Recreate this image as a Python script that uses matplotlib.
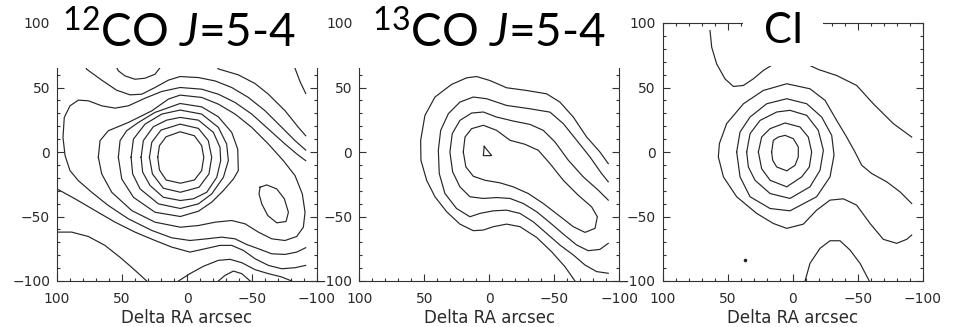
import matplotlib
matplotlib.use("Agg")
import matplotlib.pyplot as plt
import numpy as np
from matplotlib.patches import Rectangle
from matplotlib.ticker import MultipleLocator

plt.rcParams['mathtext.fontset'] = 'custom'
plt.rcParams['mathtext.rm'] = 'Lato'
plt.rcParams['mathtext.it'] = 'Lato:italic'

# ---------------- data: contour paths (arcsec) ----------------
# Panel 1: 12CO J=5-4
co12_A = [(22.5,-4.1),(21.2,4.9),(16.1,11.8),(5.3,15.7),(-5.7,12.6),(-11.3,4.9),(-12.9,-4.1),(-11.3,-14.4),(-5.7,-21.7),(5.1,-24.2),(16.1,-21.7),(21.2,-13.9)]
co12_B = [(28.9,-4.1),(27.1,7.5),(20,17),(5.3,21.6),(-8.8,18.3),(-16.4,8.8),(-19,-4.1),(-16.9,-17),(-9.3,-27.3),(5.1,-31.2),(18.2,-28.1),(26.6,-17)]
co12_C = [(35.3,-4.1),(33.6,8.8),(25.9,19.6),(15.6,24.7),(5.3,26.8),(-8.8,24.7),(-20.3,15.2),(-25.4,3.6),(-25.9,-6.7),(-22.9,-19.6),(-15.2,-31.2),(-4.9,-36.3),(5.1,-37.6),(18.2,-35.1),(28.4,-26),(34.1,-15.7)]
co12_D = [(43,-4.1),(41.2,10),(32.3,21.6),(19.4,29.4),(5.3,32.5),(-11.3,29.4),(-24.1,19.1),(-30.5,6.2),(-31.8,-6.7),(-28,-19.6),(-19,-32.5),(-8.8,-40.2),(5.1,-43.8),(22,-40.2),(36.1,-28.6),(41.8,-17)]
co12_E = [(52.8,-4.1),(51.5,8.8),(46.4,16.5),(37.4,22.9),(24.6,30.7),(5.3,37.6),(-11.3,35),(-24.1,27.3),(-34.4,15.2),(-39,2.3),(-39.5,-14.4),(-35.7,-20.9),(-28,-29.9),(-19,-38.9),(-8.8,-45.9),(5.1,-50),(24.6,-46.7),(41.2,-35.1),(50.2,-20.9)]
co12_F = [(68.2,-4.1),(66.9,8.8),(60.5,16.5),(45.1,22.9),(27.1,31.9),(14.3,41),(5.3,44.1),(-11.3,42.3),(-24.1,37.1),(-37,29.4),(-49.8,19.1),(-62.6,6.2),(-74.1,-6.7),(-83.1,-18.3),(-88.7,-32.5),(-90.8,-46.7),(-89.5,-58.3),(-84.4,-65.5),(-75.4,-68.6),(-65.2,-67.3),(-54.9,-62.1),(-44.7,-55.7),(-34.4,-53.1),(-21.6,-54.4),(-8.8,-57),(5.1,-58.3),(24.6,-54.4),(42.5,-45.4),(57.9,-31.2),(65.6,-17)]
co12_S2 = [(-56.2,-27.3),(-61.3,-25.5),(-69,-28.6),(-74.9,-36.3),(-78,-46.7),(-76.2,-53.9),(-69,-54.9),(-62.1,-49.2),(-57.5,-40.2),(-55.4,-32.5)]
co12_G = [(-91.3,-6.7),(-84.4,-1.5),(-75.4,6.2),(-62.6,17.8),(-49.8,29.4),(-37,38.4),(-24.1,44.8),(-11.3,48.7),(5.3,50),(19.5,46.9),(32.3,41.7),(45.1,35.8),(55.3,34),(65.6,35.8),(75.9,39.7),(83.6,40.2),(90,35.8),(94.4,26.8),(95.4,11.3),(93.8,-2.8),(90,-14.4),(83.6,-22.2),(73.3,-31.2),(60.5,-41.5),(45.1,-51.8),(27.1,-60.8),(11.8,-66.5),(-2.3,-68.6),(-15.2,-67.3),(-26.7,-66),(-37,-67.3),(-45.9,-71.7),(-54.9,-75),(-65.2,-78.9),(-75.4,-79.4),(-84.4,-77.6),(-91.3,-74.2)]
co12_H1 = [(78.5,68),(77.2,64.2),(65.6,55.7),(54.1,47.9),(43.8,44.3),(34.8,44.8),(24.6,50),(14.3,55.7),(5.3,58.5),(-8.8,57.7),(-21.6,55.1),(-34.4,50),(-47.2,42.3),(-60,32),(-72.9,19.1),(-83.1,8.8),(-91.3,1.5)]
co12_H2 = [(100,-28.6),(86.1,-36.3),(70.7,-45.4),(55.3,-54.4),(40,-62.1),(24.6,-68.6),(11.8,-73.7),(-2.3,-77.6),(-13.9,-75),(-25.4,-72.4),(-34.4,-72.4),(-43.4,-76.3),(-52.3,-82.7),(-62.6,-87.9),(-72.9,-90.5),(-83.1,-89.7),(-91.3,-87.9)]
co12_X0 = [(-21.6,68.6),(-24.1,64.4),(-39.5,59.8),(-52.3,53.1),(-62.6,44.8),(-75.4,32),(-85.7,19.1),(-91.3,12.6)]
co12_K = [(-81.8,68.6),(-83.6,63.5),(-87,54.5),(-91.3,45.4)]
co12_La = [(55.3,68),(52.8,62.9),(47.7,59),(40,56.4),(32.3,57.2),(24.6,60.3),(20.7,65.4),(19.5,68)]
co12_P = [(100,-62.1),(88.7,-62.1),(75.9,-65.5),(63.1,-72.4),(50.2,-82.7),(40,-91.7),(31,-100)]
co12_R = [(6.6,-100),(-2.3,-94.3),(-12.6,-88.6),(-24.1,-84),(-33.1,-83.2),(-42.1,-85.8),(-52.3,-91.2),(-62.6,-94.3),(-72.9,-96.9),(-80.5,-100)]
co12_S = [(-24.1,-100),(-29.3,-95.6),(-35.7,-92.3),(-42.1,-94.3),(-48.6,-100)]

# Panel 2: 13CO J=5-4
co13_C1 = [(-65.9,-100),(-58.2,-88.9),(-47.9,-77.3),(-36.4,-66.2),(-23.6,-57.9),(-13.3,-55.9),(-3.1,-57.9),(4.6,-60.5),(12.3,-61),(22.6,-55.9),(32.8,-46.3),(41.8,-34.7),(48.2,-21.9),(52.6,-6.4),(52.8,9.1),(49.5,28.4),(41.8,42.6),(29,52.4),(17.4,57.5),(9.8,58.5),(-0.5,55.4),(-13.3,49.8),(-28.7,47.7),(-44.1,45.1),(-54.3,38.7),(-64.6,27.1),(-74.9,11.6),(-85.1,0),(-91.5,-9)]
co13_C2 = [(-91.5,-94),(-82.5,-92.7),(-73.6,-87.6),(-64.6,-79.8),(-54.3,-72.1),(-44.1,-63.1),(-33.8,-54.1),(-23.6,-47.6),(-13.3,-45.1),(-3.1,-45.6),(7.2,-47.6),(14.9,-50.2),(25.2,-43.8),(34.1,-32.2),(38.5,-16.7),(39.2,1.3),(37.4,16.8),(31.5,29.7),(22.6,38.7),(12.3,42.6),(2.1,41.3),(-13.3,36.1),(-31.3,33.5),(-46.7,30.9),(-56.9,22),(-67.2,9.1),(-77.4,-3.8),(-86.4,-16.7),(-91.5,-23.1)]
co13_C3 = [(-91.5,-70.8),(-85.1,-75.5),(-76.1,-76.5),(-67.2,-72.1),(-56.9,-63.6),(-46.7,-54.8),(-36.4,-46.3),(-26.1,-39.9),(-15.9,-36),(-5.6,-35.3),(4.6,-36),(14.9,-34.7),(22.6,-27),(28.2,-15.4),(30.3,0),(28.5,14.2),(22.6,24.5),(13.6,30.2),(4.6,31),(-5.6,27.1),(-18.4,24),(-31.3,21.4),(-41.5,16.8),(-50.5,7.8),(-60.8,-6.4),(-72.3,-19.3),(-83.8,-29.6),(-91.5,-37.3)]
co13_C4 = [(20,0),(18.7,11.6),(13.6,18.1),(4.6,20.7),(-5.6,16.8),(-15.9,9.1),(-27.4,6),(-37.7,1.3),(-46.7,-9),(-56.9,-21.9),(-68.4,-33.5),(-78.7,-42.5),(-83.1,-50.2),(-81.3,-59.2),(-73.6,-62.3),(-64.6,-57.9),(-53.1,-48.9),(-41.5,-39.9),(-30,-32.2),(-18.4,-27),(-8.2,-23.9),(3.4,-21.9),(12.3,-18.8),(18,-11.6)]
co13_T = [(3.9,4.4),(4.6,-2.8),(-1.8,-2.8)]

# Panel 3: CI
ci_TL = [(63.6,94.1),(62.3,81.2),(58.5,68.3),(52.1,56.7),(45.6,50.8),(37.9,51.6),(30.3,56.7),(22.6,63.2),(12.3,69.6)]
ci_TR = [(-13.3,67),(-19.7,64),(-33.8,59.3),(-49.2,51.6),(-62,37.4),(-77.4,22),(-91.5,11.6)]
ci_I1 = [(16.2,0),(14.9,9.1),(11,11.6),(5.9,12.9),(-0.5,10.3),(-4.3,3.9),(-4.3,-3.8),(-1.8,-10.3),(4.6,-14.6),(12.3,-11.6),(15.4,-6.4)]
ci_I2 = [(26.4,0),(23.9,11.6),(17.4,18.1),(5.9,22.5),(-5.6,19.4),(-12,11.6),(-14.6,0),(-12.8,-11.6),(-6.9,-19.3),(4.6,-27),(17.4,-21.9),(23.9,-12.9)]
ci_I3 = [(35.4,0),(32.8,14.2),(25.1,24.5),(12.3,31),(2.1,32.3),(-10.8,28.4),(-19.7,16.8),(-23.6,1.3),(-21,-14.2),(-13.3,-27),(2.1,-36),(17.4,-32.2),(29,-21.9),(34.1,-11.6)]
ci_I4 = [(43.1,0),(40.5,15.5),(32.8,27.1),(20,37.4),(4.6,41.3),(-10.8,37.4),(-22.3,27.1),(-30,12.9),(-31.8,-2.5),(-28.7,-19.3),(-18.4,-34.7),(2.1,-45.6),(17.4,-43.8),(32.8,-34.7),(40.5,-19.3)]
ci_O = [(-91.5,-39.9),(-82.6,-30.9),(-72.3,-23.1),(-60.8,-16.7),(-53.1,-10.3),(-47.9,0),(-41.5,11.6),(-33.8,24.5),(-24.9,40),(-13.3,49),(4.6,52.9),(22.6,47.7),(37.9,37.4),(50.8,22),(56.4,6.5),(57.2,-3.8),(53.3,-19.3),(43.1,-34.7),(27.7,-47.6),(14.9,-55.4),(4.6,-59.2),(-8.2,-55.9),(-18.4,-45.1),(-28.7,-37.3),(-39,-36.3),(-49.2,-41.2),(-59.5,-55.4),(-69.7,-67.7),(-80,-70.8),(-87.7,-67.7),(-91.5,-64.4)]
ci_BA = [(-9.5,-100),(-13.3,-86.3),(-21,-74.7),(-28.7,-68.8),(-36.4,-68.8),(-44.1,-76),(-51.8,-86.3),(-58.9,-100)]
ci_dot = [(36.6,-83.7)]

titles = [r"$^{12}$CO $J$=5-4", r"$^{13}$CO $J$=5-4", "CI"]
xlabel_text = "Delta RA arcsec"
tick_values = [-100, -50, 0, 50, 100]

panels = [
    {"open": [co12_G, co12_H1, co12_H2, co12_X0, co12_K, co12_La, co12_P, co12_R, co12_S],
     "closed": [co12_A, co12_B, co12_C, co12_D, co12_E, co12_F, co12_S2], "dots": []},
    {"open": [co13_C1, co13_C2, co13_C3],
     "closed": [co13_C4, co13_T], "dots": []},
    {"open": [ci_TL, ci_TR, ci_O, ci_BA],
     "closed": [ci_I1, ci_I2, ci_I3, ci_I4], "dots": ci_dot},
]

# ---------------- layout ----------------
W, H = 959, 327
fig = plt.figure(figsize=(W / 100, H / 100), dpi=100)
fig.patch.set_facecolor("white")

# white boxes behind the big titles (they cover the top of the panels)
boxes_px = [(53, 0, 266, 68), (356, 0, 272, 68), (743, 0, 80, 66)]
for (bx, by, bw, bh) in boxes_px:
    fig.add_artist(Rectangle((bx / W, (H - by - bh) / H), bw / W, bh / H,
                             transform=fig.transFigure, facecolor="white",
                             edgecolor="none", zorder=20))

lefts_px = [57, 359.3, 662.7]
ax_w_px, ax_top_px, ax_bot_px = 260, 23, 281
line_col = "#262626"
for i, (lpx, pdat) in enumerate(zip(lefts_px, panels)):
    ax = fig.add_axes([lpx / W, (H - ax_bot_px) / H, ax_w_px / W, (ax_bot_px - ax_top_px) / H])
    for c in pdat["open"]:
        a = np.array(c)
        ax.plot(a[:, 0], a[:, 1], color=line_col, lw=0.85, solid_joinstyle="round")
    for c in pdat["closed"]:
        a = np.array(c + [c[0]])
        ax.plot(a[:, 0], a[:, 1], color=line_col, lw=0.85, solid_joinstyle="round")
    for (dx, dy) in pdat["dots"]:
        ax.plot([dx], [dy], "o", ms=1.6, color=line_col)
    ax.set_xlim(100, -100)
    ax.set_ylim(-100, 100)
    ax.set_xticks(tick_values)
    ax.set_yticks(tick_values)
    ax.xaxis.set_minor_locator(MultipleLocator(10))
    ax.yaxis.set_minor_locator(MultipleLocator(10))
    ax.tick_params(which="both", direction="in", top=True, right=True,
                   colors="#333333", width=0.8, labelcolor="#2a2a2a", labelsize=10)
    ax.tick_params(which="major", length=5)
    ax.tick_params(which="minor", length=2.5)
    ax.tick_params(axis="x", pad=8)
    ax.tick_params(axis="y", pad=5)
    for s in ax.spines.values():
        s.set_color("#333333")
        s.set_linewidth(0.8)
    ax.set_xlabel(xlabel_text, fontsize=12, color="#2a2a2a", labelpad=2)
    # the y=100 tick label sits above the white title box
    for lab in ax.get_yticklabels():
        lab.set_zorder(40)
    ax.set_zorder(0)

title_pos = [(178.5, 47, 33), (489, 47, 33), (783.5, 43, 30)]
for t, (tx, ty, fs) in zip(titles, title_pos):
    fig.text(tx / W, (H - ty) / H, t, fontsize=fs, family="Lato", ha="center",
             va="baseline", color="black", zorder=30)

fig.savefig("out.png", dpi=100, facecolor="white")
